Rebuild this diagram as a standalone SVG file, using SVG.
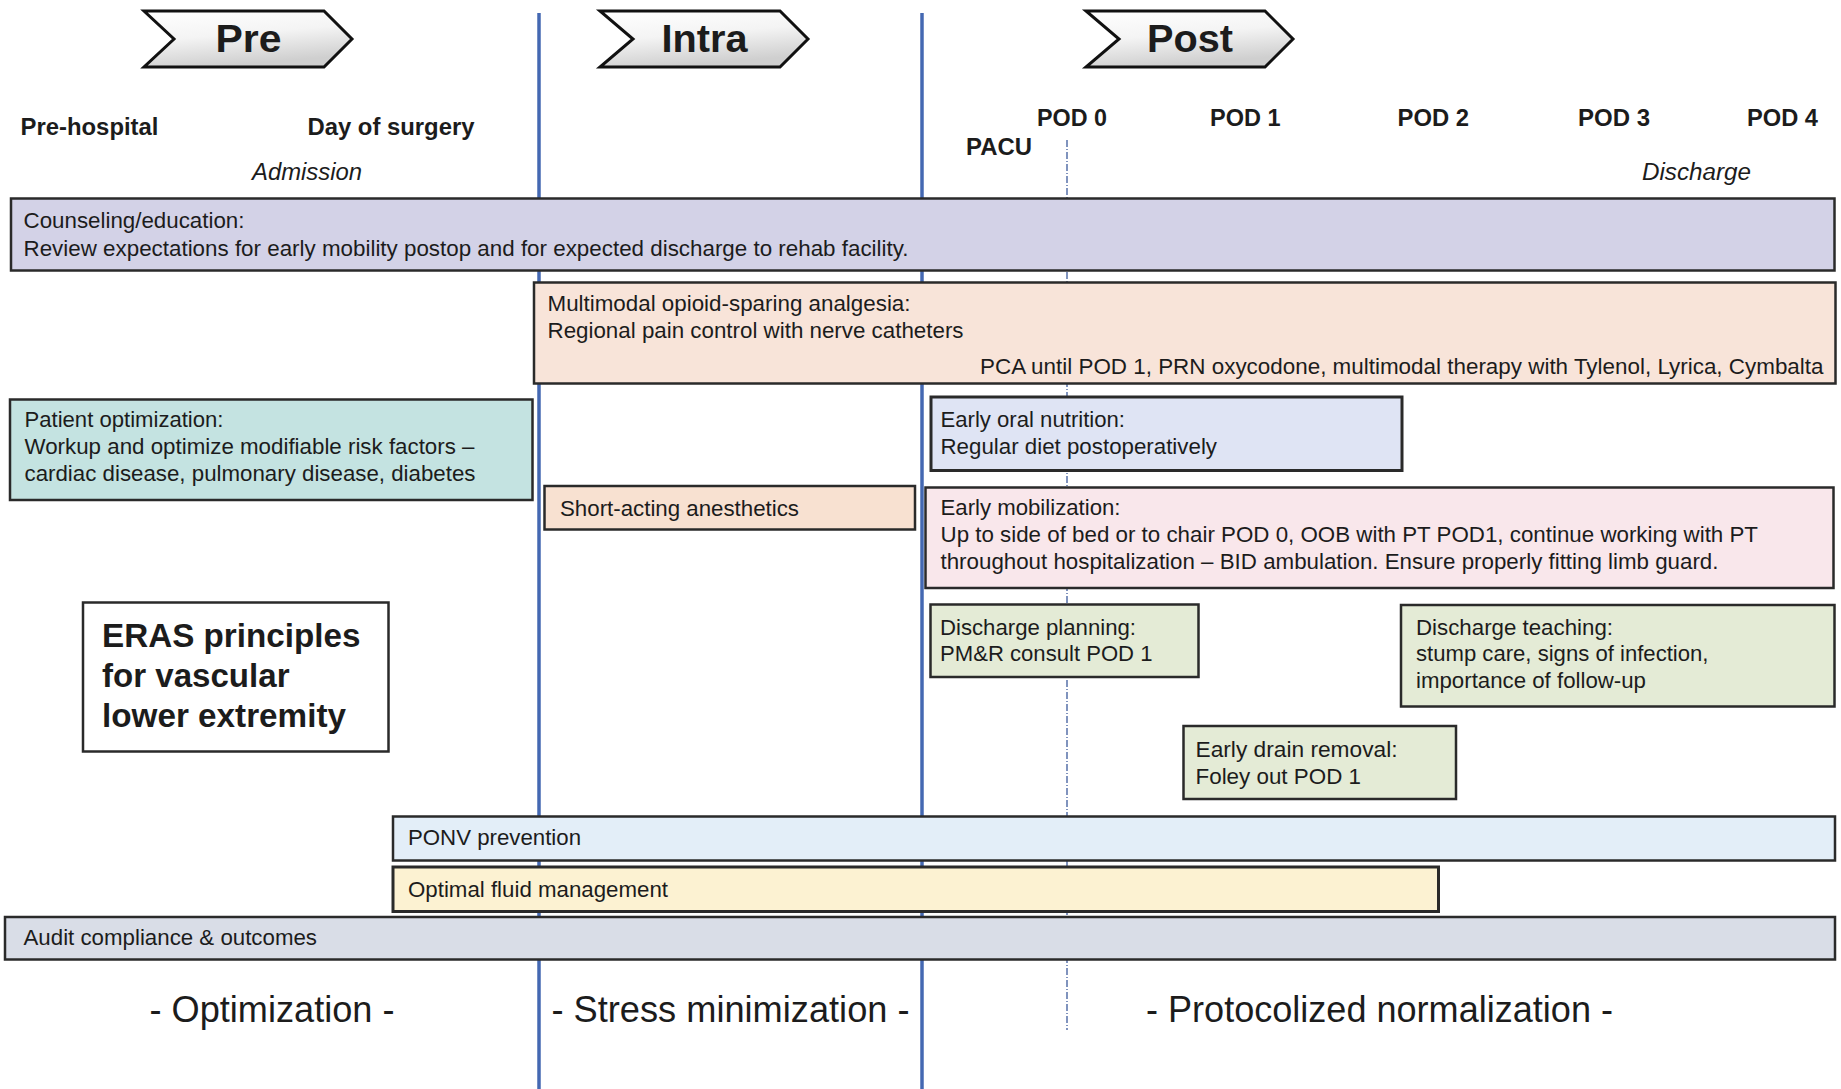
<svg xmlns="http://www.w3.org/2000/svg" width="1841" height="1089" viewBox="0 0 1841 1089">
<style>
  text { font-family: "Liberation Sans", Arial, sans-serif; fill: #1c1c1c; }
  .chev-t { font-size: 38px; font-weight: bold; }
  .hdr { font-size: 23.5px; font-weight: bold; }
  .ital { font-size: 23px; font-style: italic; }
  .bt { font-size: 22px; }
  .eras { font-size: 33px; font-weight: bold; }
  .phase { font-size: 36px; }
  .chev { fill: url(#chevGrad); stroke: #111; stroke-width: 3; stroke-linejoin: miter; }
  .box { stroke: #2a2a2a; stroke-width: 2.5; }
  .thick { stroke-width: 3; }
  .div { stroke: #4468b2; stroke-width: 3.5; fill: none; }
  .dash { stroke: #3d5b9c; stroke-width: 1.3; stroke-dasharray: 7 2 1 2; fill: none; }
</style>
<defs>
  <linearGradient id="chevGrad" x1="0" y1="0" x2="0.3" y2="1">
    <stop offset="0" stop-color="#ffffff"/>
    <stop offset="0.5" stop-color="#f4f4f4"/>
    <stop offset="1" stop-color="#cfcfcf"/>
  </linearGradient>
</defs>
<rect x="0" y="0" width="1841" height="1089" fill="#ffffff"/>

<g id="connectors">
  <line class="div" x1="539" y1="13" x2="539" y2="1089"/>
  <line class="div" x1="922" y1="13" x2="922" y2="1089"/>
  <line class="dash" x1="1067" y1="140" x2="1067" y2="1030"/>
</g>

<g id="phase-pre">
  <path class="chev" d="M144,11 L324,11 L352,39 L324,67 L144,67 L174,39 Z"/>
  <text class="chev-t" x="215.5" y="52" textLength="66" lengthAdjust="spacingAndGlyphs">Pre</text>
</g>
<g id="phase-intra">
  <path class="chev" d="M600,11 L780,11 L808,39 L780,67 L600,67 L633,39 Z"/>
  <text class="chev-t" x="661.5" y="52" textLength="86" lengthAdjust="spacingAndGlyphs">Intra</text>
</g>
<g id="phase-post">
  <path class="chev" d="M1086,11 L1265,11 L1293,39 L1265,67 L1086,67 L1119,39 Z"/>
  <text class="chev-t" x="1147" y="52" textLength="86" lengthAdjust="spacingAndGlyphs">Post</text>
</g>

<g id="timeline-labels">
  <text class="hdr" x="20.5" y="135" textLength="138" lengthAdjust="spacingAndGlyphs">Pre-hospital</text>
  <text class="hdr" x="307.5" y="135" textLength="167" lengthAdjust="spacingAndGlyphs">Day of surgery</text>
  <text class="ital" x="252" y="180" textLength="110" lengthAdjust="spacingAndGlyphs">Admission</text>
  <text class="hdr" x="1037" y="126" textLength="70" lengthAdjust="spacingAndGlyphs">POD 0</text>
  <text class="hdr" x="966" y="155" textLength="66" lengthAdjust="spacingAndGlyphs">PACU</text>
  <text class="hdr" x="1210" y="126" textLength="70.5" lengthAdjust="spacingAndGlyphs">POD 1</text>
  <text class="hdr" x="1397.5" y="126" textLength="71.5" lengthAdjust="spacingAndGlyphs">POD 2</text>
  <text class="hdr" x="1578" y="126" textLength="72" lengthAdjust="spacingAndGlyphs">POD 3</text>
  <text class="hdr" x="1747" y="126" textLength="71" lengthAdjust="spacingAndGlyphs">POD 4</text>
  <text class="ital" x="1642" y="180" textLength="109" lengthAdjust="spacingAndGlyphs">Discharge</text>
</g>

<g id="counseling">
  <rect class="box" x="11" y="198.5" width="1823.5" height="72" fill="#d3d2e7"/>
  <text class="bt" x="23.5" y="228" textLength="221" lengthAdjust="spacingAndGlyphs">Counseling/education:</text>
  <text class="bt" x="23.5" y="256" textLength="885" lengthAdjust="spacingAndGlyphs">Review expectations for early mobility postop and for expected discharge to rehab facility.</text>
</g>

<g id="analgesia">
  <rect class="box" x="534" y="282.5" width="1301.5" height="101" fill="#f8e4d9"/>
  <text class="bt" x="547.5" y="310.5" textLength="363" lengthAdjust="spacingAndGlyphs">Multimodal opioid-sparing analgesia:</text>
  <text class="bt" x="547.5" y="337.5" textLength="416" lengthAdjust="spacingAndGlyphs">Regional pain control with nerve catheters</text>
  <text class="bt" x="980" y="374" textLength="843.5" lengthAdjust="spacingAndGlyphs">PCA until POD 1, PRN oxycodone, multimodal therapy with Tylenol, Lyrica, Cymbalta</text>
</g>

<g id="patient-optimization">
  <rect class="box" x="10" y="399.5" width="522.5" height="100.5" fill="#c4e3e1"/>
  <text class="bt" x="24.5" y="427" textLength="199" lengthAdjust="spacingAndGlyphs">Patient optimization:</text>
  <text class="bt" x="24.5" y="453.5" textLength="450" lengthAdjust="spacingAndGlyphs">Workup and optimize modifiable risk factors –</text>
  <text class="bt" x="24.5" y="480.5" textLength="451" lengthAdjust="spacingAndGlyphs">cardiac disease, pulmonary disease, diabetes</text>
</g>

<g id="short-acting">
  <rect class="box" x="544.5" y="486" width="370.5" height="43.5" fill="#f8e1d1"/>
  <text class="bt" x="560" y="515.5" textLength="239" lengthAdjust="spacingAndGlyphs">Short-acting anesthetics</text>
</g>

<g id="oral-nutrition">
  <rect class="box thick" x="931" y="397" width="471" height="73.5" fill="#dfe4f4"/>
  <text class="bt" x="940.5" y="427" textLength="184.5" lengthAdjust="spacingAndGlyphs">Early oral nutrition:</text>
  <text class="bt" x="940.5" y="454" textLength="276.5" lengthAdjust="spacingAndGlyphs">Regular diet postoperatively</text>
</g>

<g id="mobilization">
  <rect class="box" x="925.5" y="487.5" width="908" height="100.5" fill="#f9e7eb"/>
  <text class="bt" x="940.5" y="515" textLength="180" lengthAdjust="spacingAndGlyphs">Early mobilization:</text>
  <text class="bt" x="940.5" y="542" textLength="817.5" lengthAdjust="spacingAndGlyphs">Up to side of bed or to chair POD 0, OOB with PT POD1, continue working with PT</text>
  <text class="bt" x="940.5" y="568.5" textLength="778" lengthAdjust="spacingAndGlyphs">throughout hospitalization – BID ambulation. Ensure properly fitting limb guard.</text>
</g>

<g id="discharge-planning">
  <rect class="box" x="930.5" y="604.5" width="268" height="72.5" fill="#e4ebd6"/>
  <text class="bt" x="940" y="635" textLength="196" lengthAdjust="spacingAndGlyphs">Discharge planning:</text>
  <text class="bt" x="940" y="661" textLength="212.5" lengthAdjust="spacingAndGlyphs">PM&amp;R consult POD 1</text>
</g>

<g id="discharge-teaching">
  <rect class="box" x="1401" y="605" width="433.5" height="101.5" fill="#e4ebd6"/>
  <text class="bt" x="1416" y="635" textLength="197" lengthAdjust="spacingAndGlyphs">Discharge teaching:</text>
  <text class="bt" x="1416" y="661" textLength="292.5" lengthAdjust="spacingAndGlyphs">stump care, signs of infection,</text>
  <text class="bt" x="1416" y="688" textLength="230" lengthAdjust="spacingAndGlyphs">importance of follow-up</text>
</g>

<g id="drain-removal">
  <rect class="box" x="1183.5" y="726" width="272.5" height="73" fill="#e4ebd6"/>
  <text class="bt" x="1195.5" y="757" textLength="202" lengthAdjust="spacingAndGlyphs">Early drain removal:</text>
  <text class="bt" x="1195.5" y="783.5" textLength="165.5" lengthAdjust="spacingAndGlyphs">Foley out POD 1</text>
</g>

<g id="eras-title">
  <rect class="box" x="83" y="602.5" width="305.5" height="149" fill="#ffffff"/>
  <text class="eras" x="102" y="647" textLength="258.5" lengthAdjust="spacingAndGlyphs">ERAS principles</text>
  <text class="eras" x="102" y="687" textLength="187.5" lengthAdjust="spacingAndGlyphs">for vascular</text>
  <text class="eras" x="102" y="727" textLength="244" lengthAdjust="spacingAndGlyphs">lower extremity</text>
</g>

<g id="ponv">
  <rect class="box" x="393" y="816.5" width="1442" height="44" fill="#e3eef8"/>
  <text class="bt" x="408" y="845" textLength="173" lengthAdjust="spacingAndGlyphs">PONV prevention</text>
</g>

<g id="fluid">
  <rect class="box thick" x="393" y="867" width="1045.5" height="44.5" fill="#fcf2d2"/>
  <text class="bt" x="408" y="897" textLength="260" lengthAdjust="spacingAndGlyphs">Optimal fluid management</text>
</g>

<g id="audit">
  <rect class="box" x="5" y="917" width="1830" height="42.5" fill="#d9dde7"/>
  <text class="bt" x="23.5" y="945" textLength="293.5" lengthAdjust="spacingAndGlyphs">Audit compliance &amp; outcomes</text>
</g>

<g id="phase-goals">
  <text class="phase" x="149.5" y="1022" textLength="245" lengthAdjust="spacingAndGlyphs">- Optimization -</text>
  <text class="phase" x="551.5" y="1022" textLength="358" lengthAdjust="spacingAndGlyphs">- Stress minimization -</text>
  <text class="phase" x="1146" y="1022" textLength="467" lengthAdjust="spacingAndGlyphs">- Protocolized normalization -</text>
</g>
</svg>
